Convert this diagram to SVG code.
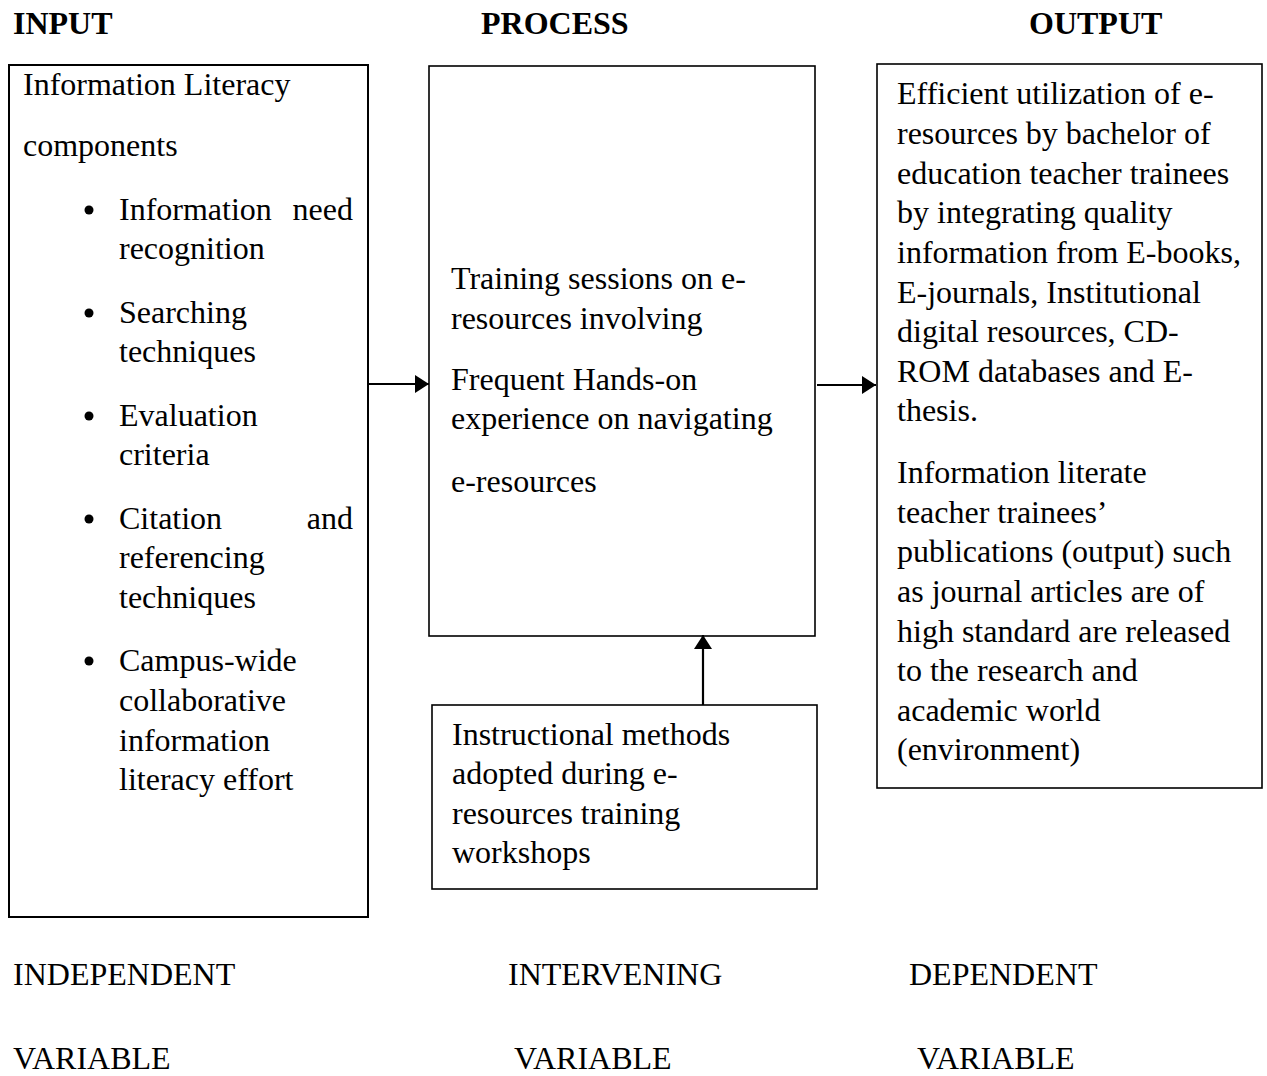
<svg xmlns="http://www.w3.org/2000/svg" width="1267" height="1076" viewBox="0 0 1267 1076">
<style>
text{font-family:"Liberation Serif","Times New Roman",serif;font-size:32px;fill:#000}
.h{font-weight:bold}
.box{fill:#fff;stroke:#000;stroke-width:1.6}
.conn{stroke:#000;stroke-width:2.2;fill:none}
</style>
<defs>
<marker id="ah" markerWidth="14" markerHeight="18" refX="14" refY="9" orient="auto" markerUnits="userSpaceOnUse">
<path d="M0,0 L14,9 L0,18 Z" fill="#000"/>
</marker>
</defs>
<rect width="1267" height="1076" fill="#fff"/>
<g id="headers">
<text class="h" x="13" y="34">INPUT</text>
<text class="h" x="481" y="34">PROCESS</text>
<text class="h" x="1029" y="34">OUTPUT</text>
</g>
<g id="input">
<rect class="box" x="9" y="65" width="359" height="852" style="stroke-width:2"/>
<text x="23" y="95">Information Literacy</text>
<text x="23" y="156">components</text>
<g fill="#000">
<circle cx="89" cy="210" r="4.5"/>
<circle cx="89" cy="313" r="4.5"/>
<circle cx="89" cy="416" r="4.5"/>
<circle cx="89" cy="519" r="4.5"/>
<circle cx="89" cy="661" r="4.5"/>
</g>
<text x="119" y="220">Information</text>
<text x="353" y="220" text-anchor="end">need</text>
<text x="119" y="259">recognition</text>
<text x="119" y="323">Searching</text>
<text x="119" y="362">techniques</text>
<text x="119" y="426">Evaluation</text>
<text x="119" y="465">criteria</text>
<text x="119" y="529">Citation</text>
<text x="353" y="529" text-anchor="end">and</text>
<text x="119" y="568">referencing</text>
<text x="119" y="608">techniques</text>
<text x="119" y="671">Campus-wide</text>
<text x="119" y="711">collaborative</text>
<text x="119" y="751">information</text>
<text x="119" y="790">literacy effort</text>
</g>
<g id="process">
<rect class="box" x="429" y="66" width="386" height="570"/>
<text x="451" y="289">Training sessions on e-</text>
<text x="451" y="329">resources involving</text>
<text x="451" y="390">Frequent Hands-on</text>
<text x="451" y="429">experience on navigating</text>
<text x="451" y="492">e-resources</text>
</g>
<g id="output">
<rect class="box" x="877" y="64" width="385" height="724"/>
<text x="897" y="104">Efficient utilization of e-</text>
<text x="897" y="144">resources by bachelor of</text>
<text x="897" y="184">education teacher trainees</text>
<text x="897" y="223">by integrating quality</text>
<text x="897" y="263">information from E-books,</text>
<text x="897" y="303">E-journals, Institutional</text>
<text x="897" y="342">digital resources, CD-</text>
<text x="897" y="382">ROM databases and E-</text>
<text x="897" y="421">thesis.</text>
<text x="897" y="483">Information literate</text>
<text x="897" y="523">teacher trainees’</text>
<text x="897" y="562">publications (output) such</text>
<text x="897" y="602">as journal articles are of</text>
<text x="897" y="642">high standard are released</text>
<text x="897" y="681">to the research and</text>
<text x="897" y="721">academic world</text>
<text x="897" y="760">(environment)</text>
</g>
<g id="methods">
<rect class="box" x="432" y="705" width="385" height="184"/>
<text x="452" y="745">Instructional methods</text>
<text x="452" y="784">adopted during e-</text>
<text x="452" y="824">resources training</text>
<text x="452" y="863">workshops</text>
</g>
<g id="connectors">
<line class="conn" x1="368" y1="384" x2="429" y2="384" marker-end="url(#ah)"/>
<line class="conn" x1="817" y1="385" x2="876" y2="385" marker-end="url(#ah)"/>
<line class="conn" x1="703" y1="705" x2="703" y2="635" marker-end="url(#ah)"/>
</g>
<g id="footer">
<text x="13" y="985">INDEPENDENT</text>
<text x="13" y="1069">VARIABLE</text>
<text x="508" y="985">INTERVENING</text>
<text x="514" y="1069">VARIABLE</text>
<text x="909" y="985">DEPENDENT</text>
<text x="917" y="1069">VARIABLE</text>
</g>
</svg>
